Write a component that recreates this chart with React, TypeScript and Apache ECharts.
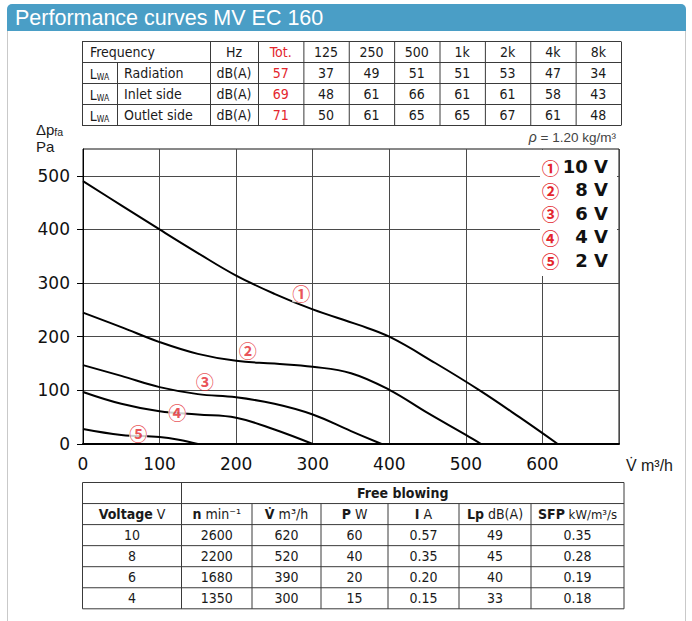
import React, { useEffect, useRef } from 'react';
import * as echarts from 'echarts';

// ---------- data ----------
const chartTitle = 'Performance curves MV EC 160';

const freqHeaders = ['Tot.', '125', '250', '500', '1k', '2k', '4k', '8k'];
const soundRowNames = ['Radiation', 'Inlet side', 'Outlet side'];
const radiationLwa = [57, 37, 49, 51, 51, 53, 47, 34];
const inletLwa = [69, 48, 61, 66, 61, 61, 58, 43];
const outletLwa = [71, 50, 61, 65, 65, 67, 61, 48];

const curve10V = [[0, 490], [50, 445], [100, 400], [150, 356], [200, 314], [250, 280], [300, 251], [360, 222], [400, 200], [460, 151], [518, 100], [570, 50], [620, 0]];
const curve8V = [[0, 245], [50, 218], [100, 190], [150, 168], [200, 155], [250, 150], [300, 144], [350, 132], [400, 101], [450, 58], [500, 17], [520, 0]];
const curve6V = [[0, 147], [50, 127], [100, 106], [150, 93], [200, 87], [250, 75], [300, 55], [350, 24], [390, 0]];
const curve4V = [[0, 97], [50, 75], [100, 61], [150, 55], [200, 49], [250, 27], [300, 0]];
const curve2V = [[0, 28], [50, 17], [100, 13], [125, 8], [150, 0]];

const voltageNames = ['10 V', '8 V', '6 V', '4 V', '2 V'];
const circledNumbers = ['①', '②', '③', '④', '⑤'];
const curveLabelAnchors = [[285, 281], [215, 176], [159, 118], [123, 60], [72, 20]];

const xTickValues = [0, 100, 200, 300, 400, 500, 600];
const yTickValues = [0, 100, 200, 300, 400, 500];

const fbVoltage = ['10', '8', '6', '4'];
const fbSpeed = ['2600', '2200', '1680', '1350'];
const fbFlow = ['620', '520', '390', '300'];
const fbPower = ['60', '40', '20', '15'];
const fbCurrent = ['0.57', '0.35', '0.20', '0.15'];
const fbLp = ['49', '45', '40', '33'];
const fbSfp = ['0.35', '0.28', '0.19', '0.18'];
const fbHeaders = ['{b|Voltage} V', '{b|n} min⁻¹', '{b|V̇} m³/h', '{b|P} W', '{b|I} A', '{b|Lp} dB(A)', '{b|SFP} kW/m³/s'];

// ---------- styles ----------
const NARROW = '"Liberation Sans Narrow", "Arial Narrow", "DejaVu Sans Condensed", sans-serif';
const SANS = '"Liberation Sans", Arial, sans-serif';
const WIDE = '"DejaVu Sans", sans-serif';
const CJK = '"Noto Sans CJK JP", "DejaVu Sans", sans-serif';
const RED = '#e3262d';
const INK = '#1a1a1a';
const BORDER = '#3a3a3a';
const TFS = 14;

function buildGraphics() {
  const g: any[] = [];
  const line = (x1: number, y1: number, x2: number, y2: number, stroke = BORDER, w = 1, z = 5) =>
    g.push({ type: 'line', silent: true, z, shape: { x1, y1, x2, y2 }, style: { stroke, lineWidth: w } });
  const text = (x: number, y: number, t: string, extra: any = {}, z = 6) =>
    g.push({
      type: 'text', silent: true, z, x, y,
      style: Object.assign({ text: t, align: 'center', verticalAlign: 'middle', fontSize: TFS, fontFamily: NARROW, fill: INK }, extra),
    });

  // header bar + frame
  g.push({ type: 'rect', silent: true, z: 1, shape: { x: 7, y: 4, width: 679, height: 27, r: [5, 5, 0, 0] }, style: { fill: '#4a9ec6' } });
  text(15, 18, chartTitle, { align: 'left', fontSize: 21.5, fontFamily: SANS, fill: '#ffffff' });
  line(7.5, 31, 7.5, 621, '#c9c9c9');
  line(685.5, 31, 685.5, 621, '#c9c9c9');

  // ----- top table -----
  const tc = [82, 117, 210, 258];
  for (let i = 1; i <= 8; i++) tc.push(258 + (i * (621 - 258)) / 8);
  const tr = [0, 1, 2, 3, 4].map((i) => 41.5 + i * 21);
  tr.forEach((y) => line(tc[0], y, tc[tc.length - 1], y));
  tc.forEach((x, i) => line(x + 0.5, i === 1 ? tr[1] : tr[0], x + 0.5, tr[4]));
  const mid = (i: number) => (tc[i] + tc[i + 1]) / 2;
  const rowMid = (r: number) => (tr[r] + tr[r + 1]) / 2;
  text(90, rowMid(0), 'Frequency', { align: 'left' });
  text(mid(2), rowMid(0), 'Hz');
  freqHeaders.forEach((h, j) => text(mid(3 + j), rowMid(0), h, { fill: j === 0 ? RED : INK }));
  [radiationLwa, inletLwa, outletLwa].forEach((vals, r) => {
    const y = rowMid(r + 1);
    text(mid(0), y + 1, '{a|L}{s|WA}', {
      rich: { a: { fontSize: TFS, fontFamily: NARROW, fill: INK }, s: { fontSize: 8.5, fontFamily: NARROW, fill: INK, verticalAlign: 'bottom', padding: [4, 0, 0, 0] } },
    });
    text(124, y, soundRowNames[r], { align: 'left' });
    text(mid(2), y, 'dB(A)');
    vals.forEach((v, j) => text(mid(3 + j), y, String(v), { fill: j === 0 ? RED : INK }));
  });

  // density note
  text(616, 137, '{i|ρ} = 1.20 kg/m³', {
    align: 'right', fontSize: 13.5, fontFamily: SANS, fill: '#444',
    rich: { i: { fontStyle: 'italic', fontSize: 14, fontFamily: SANS, fill: '#444' } },
  });

  // axis names
  text(36, 129, '{a|Δp}{s|fa}', {
    align: 'left',
    rich: { a: { fontSize: 15, fontFamily: SANS, fill: INK }, s: { fontSize: 10.5, fontFamily: SANS, fill: INK, verticalAlign: 'bottom', padding: [5, 0, 0, 0] } },
  });
  text(36, 146.5, 'Pa', { align: 'left', fontSize: 15, fontFamily: SANS });
  text(626, 465, 'V̇', { align: 'left', fontSize: 16, fontFamily: SANS });
  text(641, 465, 'm³/h', { align: 'left', fontSize: 16, fontFamily: SANS });

  // legend box
  g.push({ type: 'rect', silent: true, z: 50, shape: { x: 540, y: 150, width: 77, height: 126 }, style: { fill: '#ffffff' } });
  voltageNames.forEach((v, i) => {
    const y = 166.5 + i * 23.4;
    text(550.5, y + 0.5, circledNumbers[i], { fontSize: 17.5, lineHeight: 18, fontWeight: 'bold', fontFamily: CJK, fill: RED }, 51);
    text(608, y, v, { align: 'right', fontSize: 18, lineHeight: 20, fontWeight: 'bold', fontFamily: WIDE, fill: '#111' }, 51);
  });

  // ----- bottom table -----
  const bc = [82.5, 181.5, 252, 321, 388, 459, 531, 624];
  const br = [0, 1, 2, 3, 4, 5, 6].map((i) => 482.5 + i * 21.05);
  br.forEach((y) => line(bc[0], y, bc[bc.length - 1], y));
  bc.forEach((x, i) => {
    const top = i === 0 || i === 1 || i === bc.length - 1 ? br[0] : br[1];
    line(x, top, x, br[6]);
  });
  const bmid = (i: number) => (bc[i] + bc[i + 1]) / 2;
  const brow = (r: number) => (br[r] + br[r + 1]) / 2;
  text((bc[1] + bc[7]) / 2, brow(0), 'Free blowing', { fontWeight: 'bold' });
  const rich = { b: { fontWeight: 'bold', fontSize: TFS, fontFamily: NARROW, fill: INK } };
  fbHeaders.forEach((h, j) => text(bmid(j), brow(1), h, { rich, fontSize: j === 6 ? 13 : TFS }));
  const cols = [fbVoltage, fbSpeed, fbFlow, fbPower, fbCurrent, fbLp, fbSfp];
  fbVoltage.forEach((_, r) => {
    cols.forEach((c, j) => text(bmid(j), brow(r + 2), c[r]));
  });
  return g;
}

export default function App() {
  const ref = useRef<HTMLDivElement>(null);
  useEffect(() => {
    if (!ref.current) return;
    const chart = echarts.init(ref.current, undefined, { renderer: 'svg' });
    const curves = [curve10V, curve8V, curve6V, curve4V, curve2V];
    const gridLine = { show: true, lineStyle: { color: '#4a4a4a', width: 1 } };
    chart.setOption({
      animation: false,
      backgroundColor: '#ffffff',
      grid: { left: 83, top: 149, width: 536, height: 295, show: true, borderColor: '#111', borderWidth: 1, containLabel: false },
      xAxis: {
        type: 'value', min: 0, max: 700, interval: 100,
        axisLine: { show: true, onZero: false, lineStyle: { color: '#000', width: 2 } },
        axisTick: { show: false },
        axisLabel: { customValues: xTickValues, fontSize: 17, fontFamily: WIDE, color: '#111', margin: 11 },
        splitLine: gridLine,
      },
      yAxis: {
        type: 'value', min: 0, max: 550, interval: 50,
        axisLine: { show: true, onZero: false, lineStyle: { color: '#000', width: 1 } },
        axisTick: { show: true, customValues: yTickValues, length: 6, lineStyle: { color: '#000' } },
        axisLabel: { customValues: yTickValues, fontSize: 17, fontFamily: WIDE, color: '#111', margin: 13 },
        splitLine: gridLine,
      },
      series: [
        ...curves.map((c, i) => ({
          type: 'line', name: voltageNames[i], data: c, smooth: 0.4, symbol: 'none', z: 3,
          lineStyle: { color: '#000', width: 2 }, silent: true,
        })),
        {
          type: 'scatter', data: curveLabelAnchors, symbolSize: 1, z: 10, silent: true,
          itemStyle: { color: 'rgba(0,0,0,0)' },
          label: {
            show: true, position: 'inside', formatter: (p: any) => circledNumbers[p.dataIndex],
            fontSize: 18, lineHeight: 18, fontWeight: 'bold', fontFamily: CJK, color: RED, backgroundColor: '#ffffff', padding: [0, 0],
          },
        },
      ],
      graphic: { elements: buildGraphics() },
    });
    return () => chart.dispose();
  }, []);
  return <div ref={ref} style={{ position: 'absolute', left: 0, top: 0, width: 692, height: 621 }} />;
}
